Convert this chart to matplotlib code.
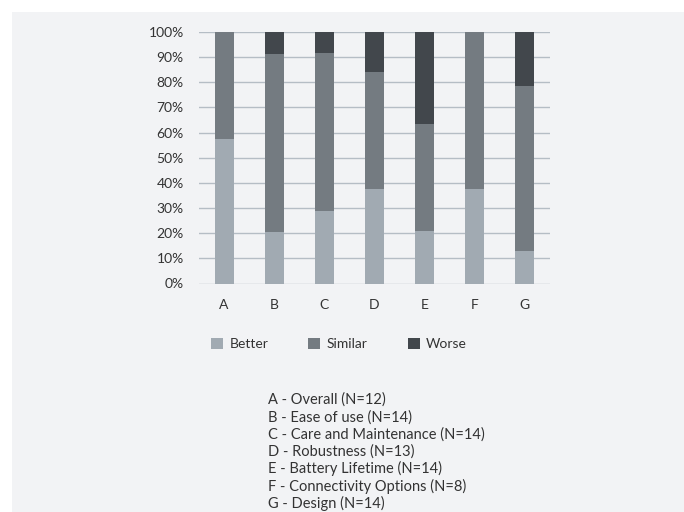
import matplotlib
matplotlib.use("Agg")
import matplotlib.pyplot as plt
from matplotlib.patches import Rectangle
from matplotlib.ticker import PercentFormatter
import numpy as np

# Data (percent of respondents)
categories = ['A', 'B', 'C', 'D', 'E', 'F', 'G']
better = [57.5, 20.6, 28.7, 37.5, 20.8, 37.5, 12.8]
similar = [42.5, 70.6, 63.1, 46.7, 42.5, 62.5, 65.6]
worse = [0.0, 8.8, 8.2, 15.8, 36.7, 0.0, 21.6]
descriptions = [
    'A - Overall (N=12)',
    'B - Ease of use (N=14)',
    'C - Care and Maintenance (N=14)',
    'D - Robustness (N=13)',
    'E - Battery Lifetime (N=14)',
    'F - Connectivity Options (N=8)',
    'G - Design (N=14)',
]

bg = '#f2f3f5'
txt = '#333333'
colors = {'Better': '#a1aab2', 'Similar': '#747b81', 'Worse': '#42474c'}

plt.rcParams['font.family'] = ['Lato', 'DejaVu Sans']

W, H = 684, 512
fig = plt.figure(figsize=(W / 100, H / 100), dpi=100, facecolor=bg)
# thin white margin at top and left
fig.patches.append(Rectangle((0, 1 - 12 / H), 1, 12 / H, transform=fig.transFigure,
                             facecolor='white', edgecolor='none', zorder=-10))
fig.patches.append(Rectangle((0, 0), 12 / W, 1, transform=fig.transFigure,
                             facecolor='white', edgecolor='none', zorder=-10))

ax = fig.add_axes([199 / W, 1 - 283.5 / H, 351 / W, 251.5 / H], facecolor=bg)

x = np.arange(len(categories))
w = 0.38
b1 = np.array(better)
b2 = b1 + np.array(similar)
ax.bar(x, better, w, color=colors['Better'], label='Better', zorder=3)
ax.bar(x, similar, w, bottom=b1, color=colors['Similar'], label='Similar', zorder=3)
ax.bar(x, worse, w, bottom=b2, color=colors['Worse'], label='Worse', zorder=3)

ax.set_xlim(-0.5, len(categories) - 0.5)
ax.set_ylim(0, 100)
ax.set_yticks(np.arange(0, 101, 10))
ax.yaxis.set_major_formatter(PercentFormatter(decimals=0))
ax.set_xticks(x)
ax.set_xticklabels(categories)
ax.tick_params(length=0, labelsize=10, colors=txt)
ax.tick_params(axis='x', pad=11)
ax.tick_params(axis='y', pad=11)
ax.grid(axis='y', color='#b5bdc5', linewidth=1.0, zorder=0)
for s in ax.spines.values():
    s.set_visible(False)

fig.legend(loc='center', bbox_to_anchor=(339 / W, 1 - 344 / H), ncol=3,
           frameon=False, fontsize=10, handlelength=0.86, handleheight=0.86,
           handletextpad=0.45, columnspacing=2.9, labelcolor=txt)

for i, d in enumerate(descriptions):
    fig.text(268 / W, 1 - (400 + 17.2 * i) / H, d, fontsize=10.5,
             color=txt, va='center', ha='left')

fig.savefig('out.png', dpi=100, facecolor=bg)
